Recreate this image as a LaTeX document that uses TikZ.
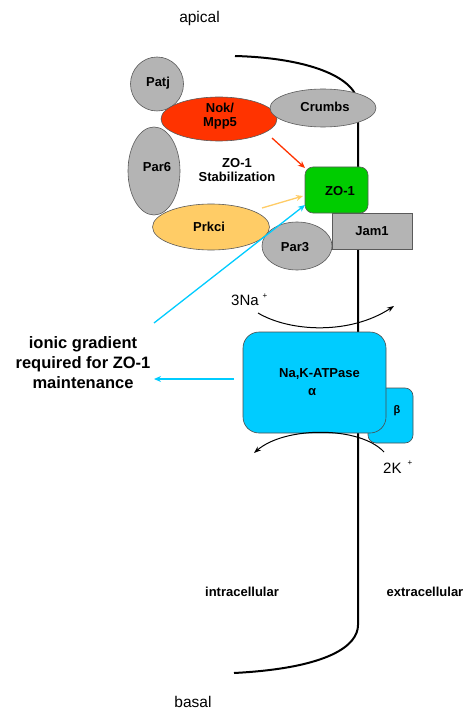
\documentclass[tikz,border=0pt]{standalone}
\usepackage{fontspec}
\setmainfont{Liberation Sans}
\usetikzlibrary{shapes.geometric,arrows.meta}
\definecolor{protgray}{RGB}{180,180,180}
\definecolor{nokred}{RGB}{255,51,0}
\definecolor{prkorange}{RGB}{255,204,102}
\definecolor{zogreen}{RGB}{0,204,0}
\definecolor{pumpblue}{RGB}{0,204,255}
\definecolor{edgegray}{RGB}{90,90,90}
\begin{document}
\begin{tikzpicture}[x=1pt,y=-1pt,
  lbl/.style={font=\fontsize{13}{14}\selectfont\bfseries, align=center, inner sep=0pt},
  blob/.style={ellipse, draw=edgegray, line width=0.6pt, inner sep=0pt},
  boxshape/.style={rectangle, draw=edgegray, line width=0.6pt, inner sep=0pt},
  membrane/.style={line width=2pt, black},
  ionarrow/.style={line width=1pt, black, -{Stealth[length=7pt,width=5pt]}},
  sigarrow/.style={line width=1.3pt, -{Stealth[length=7pt,width=6pt]}},
  ionlbl/.style={font=\fontsize{15}{16}\selectfont, inner sep=0pt, anchor=west},
  sup/.style={font=\fontsize{8}{8}\selectfont, inner sep=0pt}
]
\useasboundingbox (0,0) rectangle (469,714);
\fill[white] (0,0) rectangle (469,714);

% membrane
\coordinate (mtop) at (235,56);
\coordinate (mtopv) at (358,105);
\coordinate (mbotv) at (358,625);
\coordinate (mbot) at (234,673);
\draw[membrane] (mtop) .. controls (310,58) and (358,78) .. (mtopv) -- (mbotv)
  .. controls (358,645) and (330,668) .. (mbot);

% labels top/bottom
\node[font=\fontsize{15.5}{16}\selectfont, inner sep=0pt] (apical) at (199.5,18) {apical};
\node[font=\fontsize{15.5}{16}\selectfont, inner sep=0pt] (basal) at (193,702) {basal};

% proteins
\node[blob, fill=protgray, minimum width=53pt, minimum height=54pt] (patj) at (157,84) {};
\node[lbl] (patjt) at (158,83) {Patj};
\node[blob, fill=protgray, minimum width=52pt, minimum height=88pt] (par6) at (154,171) {};
\node[lbl] (par6t) at (157,167) {Par6};
\node[blob, fill=nokred, minimum width=116pt, minimum height=44pt] (nok) at (219,119) {};
\node[lbl] (nokt) at (220,116) {Nok/\\Mpp5};
\node[blob, fill=protgray, minimum width=106pt, minimum height=38pt] (crumbs) at (323,108) {};
\node[lbl] (crumbst) at (325,107) {Crumbs};
\node[boxshape, fill=protgray, minimum width=80pt, minimum height=36pt] (jam) at (372,231) {};
\node[lbl] (jamt) at (372,231) {Jam1};
\node[boxshape, fill=zogreen, rounded corners=8pt, minimum width=63pt, minimum height=46pt] (zo) at (336.5,190) {};
\node[lbl] (zot) at (340,191) {ZO-1};
\node[blob, fill=prkorange, minimum width=117pt, minimum height=46pt] (prkci) at (211,227) {};
\node[lbl] (prkcit) at (209,227) {Prkci};
\node[blob, fill=protgray, minimum width=70pt, minimum height=48pt] (par3) at (297,246) {};
\node[lbl] (par3t) at (295,247) {Par3};

\node[lbl] (stab) at (237,170) {ZO-1\\Stabilization};

% signal arrows
\coordinate (redS) at (272,138);
\coordinate (redE) at (305,168);
\coordinate (orS) at (262,208);
\coordinate (orE) at (303,196);
\coordinate (cyS) at (154,323);
\coordinate (cyE) at (305,205);
\draw[sigarrow, nokred] (redS) -- (redE);
\draw[sigarrow, prkorange] (orS) -- (orE);
\draw[sigarrow, pumpblue] (cyS) -- (cyE);

% pump
\node[boxshape, fill=pumpblue, draw=black!70, rounded corners=8pt, minimum width=45pt, minimum height=55pt] (beta) at (390.5,415.5) {};
\node[boxshape, fill=pumpblue, draw=black!70, rounded corners=16pt, minimum width=143pt, minimum height=101pt] (alpha) at (314.5,382.5) {};
\node[lbl] (alphat1) at (319.5,374) {Na,K-ATPase};
\node[lbl] (alphat2) at (312,392) {α};
\node[lbl, font=\fontsize{11}{12}\selectfont\bfseries] (betat) at (397,411) {β};

% ion flows
\node[ionlbl] (na) at (231,300) {3Na};
\node[sup] (naplus) at (265,296) {+};
\coordinate (naS) at (258,313);
\coordinate (naE) at (394,306);
\draw[ionarrow] (naS) .. controls (290,332) and (350,335) .. (naE);

\coordinate (kS) at (384,452);
\coordinate (kE) at (254,453);
\draw[ionarrow] (kS) .. controls (360,426) and (285,426) .. (kE);
\node[ionlbl] (k) at (383,468) {2K};
\node[sup] (kplus) at (410,463) {+};

% ionic gradient
\node[font=\fontsize{16.5}{20}\selectfont\bfseries, align=center, inner sep=0pt] (ionic) at (83,363) {ionic gradient\\required for ZO-1\\maintenance};
\coordinate (gradS) at (234,379);
\coordinate (gradE) at (154,379);
\draw[sigarrow, pumpblue] (gradS) -- (gradE);

% compartments
\node[lbl] (intra) at (242,592) {intracellular};
\node[lbl] (extra) at (425,592) {extracellular};
\end{tikzpicture}
\end{document}
